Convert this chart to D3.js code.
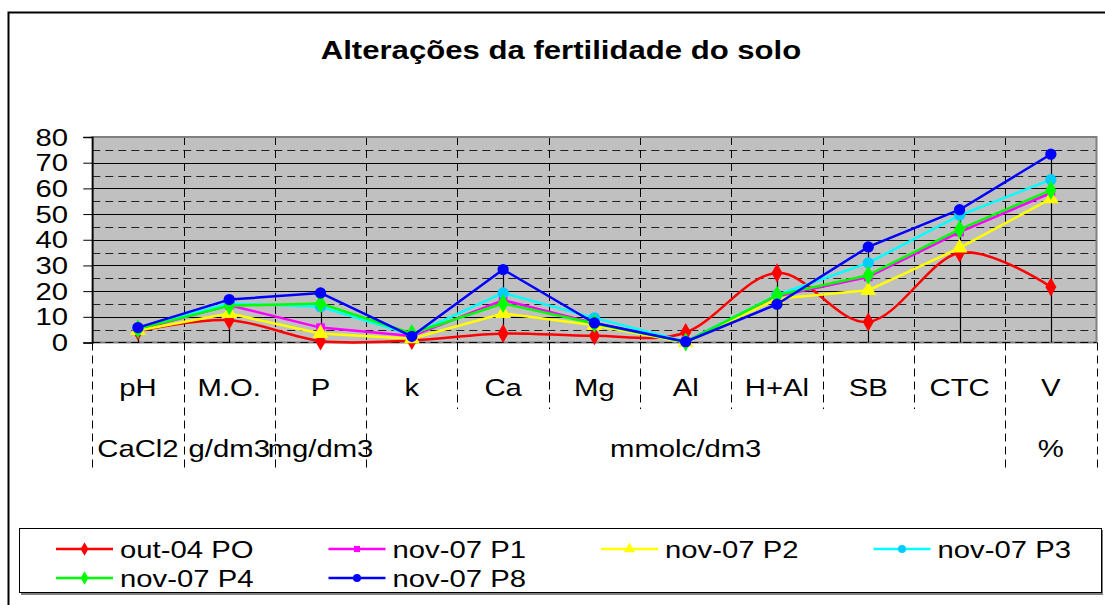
<!DOCTYPE html>
<html>
  <head>
    <title>Alteracoes da fertilidade do solo</title>
    <script src="https://d3js.org/d3.v7.min.js"></script>
    <style>
      body { margin: 0; background: #fff; }
      text { font-family: "Liberation Sans", Arial, sans-serif; fill: #000; }
    </style>
  </head>
  <body>
    <div id="vis"></div>
    <script>
      // data
      var categories = ["pH", "M.O.", "P", "k", "Ca", "Mg", "Al", "H+Al", "SB", "CTC", "V"];
      var units = ["CaCl2", "g/dm3", "mg/dm3", "mmolc/dm3", "%"];
      var unitSpans = [1, 1, 1, 7, 1];
      var yTicks = [0, 10, 20, 30, 40, 50, 60, 70, 80];

      var seriesNames = ["out-04 PO", "nov-07 P1", "nov-07 P2", "nov-07 P3", "nov-07 P4", "nov-07 P8"];
      var out04PO = [4.4, 8.7, 0.6, 0.8, 3.5, 2.6, 3.9, 27.1, 8.0, 34.9, 21.6];
      var nov07P1 = [4.9, 14.5, 5.8, 2.5, 16.5, 7.5, 0.3, 18.0, 25.5, 43.0, 58.2];
      var nov07P2 = [4.7, 11.3, 3.5, 1.5, 11.3, 6.7, 0.0, 17.0, 20.3, 36.8, 56.0];
      var nov07P3 = [5.5, 15.2, 13.9, 3.0, 19.3, 9.6, 0.3, 18.5, 31.0, 49.5, 63.4];
      var nov07P4 = [5.3, 14.3, 15.2, 3.5, 15.2, 7.4, 0.2, 18.4, 26.2, 44.0, 59.3];
      var nov07P8 = [5.8, 16.7, 19.3, 2.4, 28.4, 7.6, 0.3, 14.9, 37.2, 51.7, 73.3];
      var seriesValues = [out04PO, nov07P1, nov07P2, nov07P3, nov07P4, nov07P8];

      var lineColors = ["#FF0000", "#FF00FF", "#FFFF00", "#00FFFF", "#00FF00", "#0000FF"];
      var markerColors = ["#FF0000", "#FF00FF", "#FFFF00", "#00CCFF", "#00FF00", "#0000FF"];
      var markerShapes = [d3.symbolDiamond, d3.symbolSquare, d3.symbolTriangle, d3.symbolCircle, d3.symbolDiamond, d3.symbolCircle];
      var markerSizes = [105, 75, 110, 100, 105, 100];
      var smooth = [true, false, false, false, false, false];

      var width = 1105, height = 605;
      var pLeft = 92.3, pRight = 1096.5, pTop = 137, pBottom = 342.5;
      var stretch = 1.22; // text in the picture is a bit wide

      var svg = d3.select("#vis").append("svg")
        .attr("width", width)
        .attr("height", height);

      // text helper: wide text, placed at (tx, ty)
      function label(g, tx, ty, str, size, anchor) {
        return g.append("text")
          .attr("transform", "translate(" + tx + "," + ty + ") scale(" + stretch + ",1)")
          .attr("text-anchor", anchor || "middle")
          .style("font-size", size + "px")
          .text(str);
      }

      // chart frame
      svg.append("rect")
        .attr("x", 8.5).attr("y", 12.5)
        .attr("width", width + 10).attr("height", height + 10)
        .attr("fill", "#fff").attr("stroke", "#000").attr("stroke-width", 2);

      label(svg, 561, 59, "Alterações da fertilidade do solo", 25.5).style("font-weight", "bold");

      var x = d3.scaleBand().domain(categories).range([pLeft, pRight]).padding(0);
      var y = d3.scaleLinear().domain([0, 80]).range([pBottom, pTop]);

      // plot area
      svg.append("rect")
        .attr("x", pLeft).attr("y", pTop)
        .attr("width", pRight - pLeft).attr("height", pBottom - pTop)
        .attr("fill", "#C0C0C0");

      // minor dashed gridlines
      var minor = d3.range(5, 80, 10);
      svg.append("g").selectAll("line").data(minor).enter().append("line")
        .attr("x1", pLeft).attr("x2", pRight)
        .attr("y1", function (d) { return Math.round(y(d)) + 0.5; })
        .attr("y2", function (d) { return Math.round(y(d)) + 0.5; })
        .attr("stroke", "#222").attr("stroke-dasharray", "8,5");

      // major gridlines
      svg.append("g").selectAll("line").data(yTicks.slice(1, -1)).enter().append("line")
        .attr("x1", pLeft).attr("x2", pRight)
        .attr("y1", function (d) { return Math.round(y(d)) + 0.5; })
        .attr("y2", function (d) { return Math.round(y(d)) + 0.5; })
        .attr("stroke", "#000");

      // vertical dashed gridlines at category boundaries
      svg.append("g").selectAll("line").data(categories.slice(1)).enter().append("line")
        .attr("x1", function (d) { return Math.round(x(d)) + 0.5; })
        .attr("x2", function (d) { return Math.round(x(d)) + 0.5; })
        .attr("y1", pTop).attr("y2", pBottom)
        .attr("stroke", "#000").attr("stroke-dasharray", "8,5");

      // plot border (gray)
      svg.append("rect")
        .attr("x", pLeft).attr("y", pTop)
        .attr("width", pRight - pLeft).attr("height", pBottom - pTop)
        .attr("fill", "none").attr("stroke", "#808080").attr("stroke-width", 2);
      svg.append("line")
        .attr("x1", pLeft).attr("x2", pRight)
        .attr("y1", pBottom).attr("y2", pBottom)
        .attr("stroke", "#000").attr("stroke-dasharray", "8,5");

      // y axis
      var yAxis = d3.axisLeft(y).tickValues(yTicks).tickSize(9).tickFormat("");
      var ga = svg.append("g").attr("transform", "translate(" + pLeft + ",0)").call(yAxis);
      ga.select(".domain").attr("stroke", "#000").attr("stroke-width", 1.5);
      ga.selectAll(".tick line").attr("stroke", "#000");
      var yl = svg.append("g");
      yTicks.forEach(function (t) {
        label(yl, 68, y(t) + 8.5, String(t), 24, "end");
      });

      // drop lines from the highest value
      var maxes = categories.map(function (c, i) {
        return d3.max(seriesValues, function (s) { return s[i]; });
      });
      svg.append("g").selectAll("line").data(categories).enter().append("line")
        .attr("x1", function (d) { return Math.round(x(d) + x.bandwidth() / 2) + 0.5; })
        .attr("x2", function (d) { return Math.round(x(d) + x.bandwidth() / 2) + 0.5; })
        .attr("y1", function (d, i) { return y(maxes[i]); })
        .attr("y2", pBottom)
        .attr("stroke", "#000").attr("stroke-width", 1.2);

      // series lines
      var cx = function (d, i) { return x(categories[i]) + x.bandwidth() / 2; };
      seriesValues.forEach(function (vals, s) {
        var line = d3.line()
          .x(cx)
          .y(function (d) { return y(d); })
          .curve(smooth[s] ? d3.curveCardinal.tension(0) : d3.curveLinear);
        svg.append("path")
          .datum(vals)
          .attr("d", line)
          .attr("fill", "none")
          .attr("stroke", lineColors[s])
          .attr("stroke-width", 2.5)
          .attr("stroke-linejoin", "round");
        svg.append("g").selectAll("path").data(vals).enter().append("path")
          .attr("transform", function (d, i) { return "translate(" + cx(d, i) + "," + y(d) + ")"; })
          .attr("d", d3.symbol().type(markerShapes[s]).size(markerSizes[s]))
          .attr("fill", markerColors[s]);
      });

      // category labels (two levels)
      var row1 = 409, row2 = 468;
      var cl = svg.append("g");
      categories.forEach(function (c) {
        label(cl, x(c) + x.bandwidth() / 2, 396, c, 24);
      });

      var bounds = [0];
      unitSpans.forEach(function (n, i) { bounds.push(bounds[i] + n); });
      var bx = function (k) { return k < categories.length ? x(categories[k]) : pRight; };

      svg.append("g").selectAll("line").data(d3.range(categories.length + 1)).enter().append("line")
        .attr("x1", function (k) { return Math.round(bx(k)) + 0.5; })
        .attr("x2", function (k) { return Math.round(bx(k)) + 0.5; })
        .attr("y1", pBottom)
        .attr("y2", function (k) { return bounds.indexOf(k) >= 0 ? row2 : row1; })
        .attr("stroke", "#000").attr("stroke-dasharray", "8,5");

      units.forEach(function (u, i) {
        label(cl, (bx(bounds[i]) + bx(bounds[i + 1])) / 2, 457, u, 24);
      });

      // legend
      svg.append("rect")
        .attr("x", 21).attr("y", 530)
        .attr("width", 1082).attr("height", 65)
        .attr("fill", "#808080");
      svg.append("rect")
        .attr("x", 19.5).attr("y", 528.5)
        .attr("width", 1082).attr("height", 64)
        .attr("fill", "#fff").attr("stroke", "#000").attr("stroke-width", 1);

      var leg = svg.append("g").selectAll("g").data(seriesNames).enter().append("g")
        .attr("transform", function (d, i) {
          return "translate(" + (56 + (i % 4) * 272.5) + "," + (549 + Math.floor(i / 4) * 29) + ")";
        });
      leg.append("line")
        .attr("x1", 0).attr("x2", 57)
        .attr("stroke", function (d, i) { return lineColors[i]; })
        .attr("stroke-width", 2.5);
      leg.append("path")
        .attr("transform", "translate(28.5,0)")
        .attr("d", function (d, i) { return d3.symbol().type(markerShapes[i]).size(markerSizes[i] * 0.5)(); })
        .attr("fill", function (d, i) { return markerColors[i]; });
      leg.each(function (d) {
        label(d3.select(this), 64, 8.5, d, 24, "start");
      });
    </script>
  </body>
</html>
